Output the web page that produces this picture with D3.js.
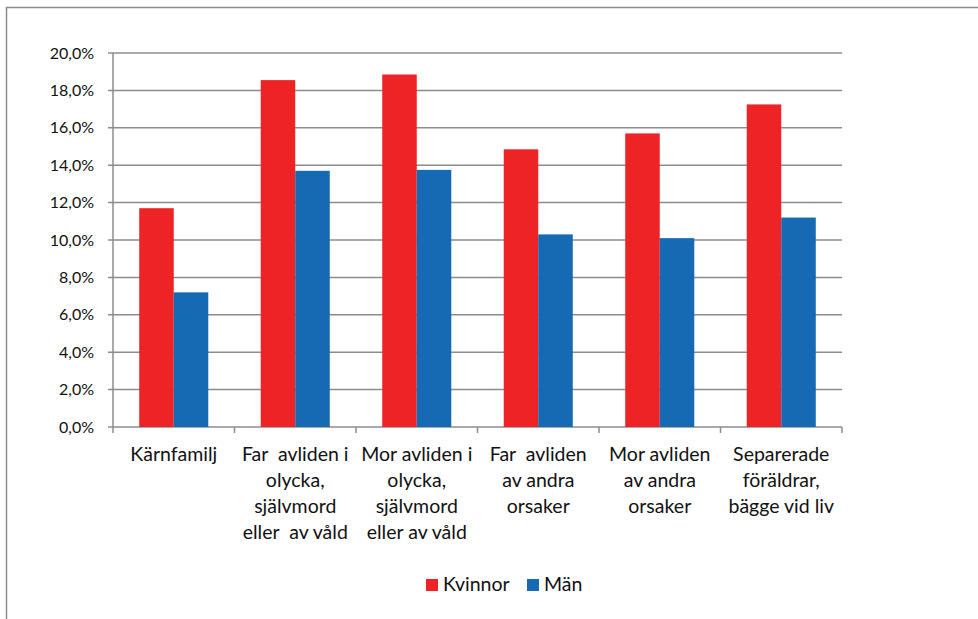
<!DOCTYPE html>
<html>
<head>
<meta charset="utf-8">
<script src="https://cdn.jsdelivr.net/npm/d3@7"></script>
<style>
  body { margin: 0; background: #fff; }
  text { font-family: Lato, "Open Sans", sans-serif; fill: #111; white-space: pre; }
</style>
</head>
<body>
<div id="chart-area"></div>
<script>
// categories, one array of lines per label
const categories = [
    ["Kärnfamilj"],
    ["Far  avliden i", "olycka,", "självmord", "eller  av våld"],
    ["Mor avliden i", "olycka,", "självmord", "eller av våld"],
    ["Far  avliden", "av andra", "orsaker"],
    ["Mor avliden", "av andra", "orsaker"],
    ["Separerade", "föräldrar,", "bägge vid liv"]
];
const kvinnor = [11.7, 18.55, 18.85, 14.85, 15.7, 17.25];
const man = [7.2, 13.7, 13.75, 10.3, 10.1, 11.2];
const seriesNames = ["Kvinnor", "Män"];
const seriesColors = ["#ee2326", "#1669b3"];
const yTicks = [0, 2, 4, 6, 8, 10, 12, 14, 16, 18, 20];

const width = 978, height = 619;
const svg = d3.select("#chart-area").append("svg")
    .attr("width", width)
    .attr("height", height);

// outer frame (only top and left visible)
svg.append("path")
    .attr("d", "M6.5,619 L6.5,7.5 L978,7.5")
    .attr("fill", "none")
    .attr("stroke", "#8c8c8c")
    .attr("stroke-width", 1.5);

const plot = { left: 113, right: 842, top: 53, bottom: 427 };

const x = d3.scaleBand()
    .domain(d3.range(categories.length))
    .range([plot.left, plot.right]);

const x1 = d3.scaleBand()
    .domain([0, 1])
    .range([0, x.bandwidth()])
    .paddingOuter(0.76);

const y = d3.scaleLinear()
    .domain([0, 20])
    .range([plot.bottom, plot.top]);

// gridlines
svg.append("g").selectAll("line")
    .data(yTicks)
    .enter().append("line")
    .attr("x1", plot.left - 5)
    .attr("x2", plot.right)
    .attr("y1", d => y(d))
    .attr("y2", d => y(d))
    .attr("stroke", "#8c8c8c")
    .attr("stroke-width", 1.5);

// y labels
svg.append("g").selectAll("text")
    .data(yTicks)
    .enter().append("text")
    .attr("x", 94)
    .attr("y", d => y(d) + 5.5)
    .attr("text-anchor", "end")
    .attr("font-size", 16)
    .text(d => d.toFixed(1).replace(".", ",") + "%");

// vertical axis line
svg.append("line")
    .attr("x1", plot.left).attr("x2", plot.left)
    .attr("y1", plot.top).attr("y2", plot.bottom)
    .attr("stroke", "#8c8c8c")
    .attr("stroke-width", 1.5);

// category ticks
svg.append("g").selectAll("line")
    .data(d3.range(categories.length + 1))
    .enter().append("line")
    .attr("x1", i => plot.left + i * x.step())
    .attr("x2", i => plot.left + i * x.step())
    .attr("y1", plot.bottom)
    .attr("y2", plot.bottom + 6)
    .attr("stroke", "#8c8c8c")
    .attr("stroke-width", 1.5);

// bars
const series = [kvinnor, man];
series.forEach((vals, s) => {
    svg.append("g").selectAll("rect")
        .data(vals)
        .enter().append("rect")
        .attr("x", (d, i) => x(i) + x1(s))
        .attr("width", x1.bandwidth())
        .attr("y", d => y(d))
        .attr("height", d => plot.bottom - y(d))
        .attr("fill", seriesColors[s]);
});

// category labels
const labels = svg.append("g").selectAll("text")
    .data(categories)
    .enter().append("text")
    .attr("text-anchor", "middle")
    .attr("font-size", 19.5);

labels.selectAll("tspan")
    .data((d, i) => d.map(line => ({ line, i })))
    .enter().append("tspan")
    .attr("x", d => x(d.i) + x.bandwidth() / 2)
    .attr("y", (d, j) => 460.5 + j * 26.3)
    .text(d => d.line);

// legend
const legendX = [426, 527];
seriesNames.forEach((name, s) => {
    svg.append("rect")
        .attr("x", legendX[s])
        .attr("y", 579)
        .attr("width", 12)
        .attr("height", 12)
        .attr("fill", seriesColors[s]);
    svg.append("text")
        .attr("x", legendX[s] + 17)
        .attr("y", 591)
        .attr("font-size", 19.5)
        .text(name);
});
</script>
</body>
</html>
